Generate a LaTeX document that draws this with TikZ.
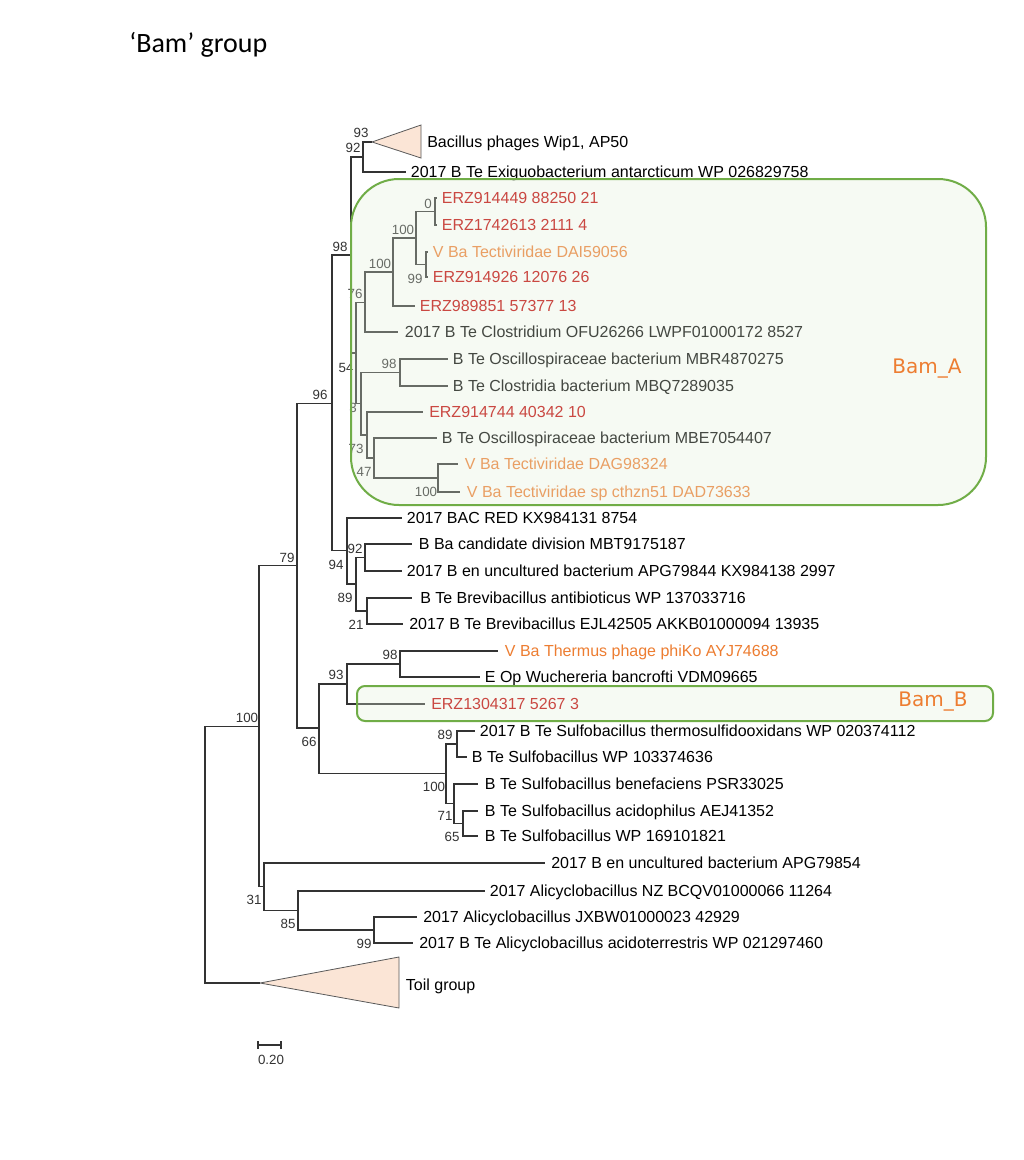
\documentclass[tikz,border=0pt]{standalone}
\usepackage{fontspec}
\setmainfont{Liberation Sans}
\newfontfamily\titlefont{Carlito}
\newfontfamily\boxfont{DejaVu Sans}
\definecolor{treec}{HTML}{333333}
\definecolor{erz}{HTML}{C00000}
\definecolor{vorange}{HTML}{ED7D31}
\definecolor{boxgreen}{HTML}{70AD47}
\definecolor{boxfill}{HTML}{E2EFDA}
\definecolor{trifill}{HTML}{FBE5D6}
\definecolor{trigray}{HTML}{595959}
\begin{document}
\begin{tikzpicture}[x=0.75pt,y=-0.75pt,
  br/.style={draw=treec,line width=0.9pt},
  leaf/.style={anchor=west,inner xsep=3.5pt,inner ysep=0pt,text height=8.6pt,text depth=0pt,font=\fontsize{12}{14}\selectfont},
  erzleaf/.style={leaf,text=erz},
  vleaf/.style={leaf,text=vorange},
  boot/.style={inner sep=0pt,text=treec,font=\fontsize{10}{12}\selectfont},
  tri/.style={draw=trigray,line width=0.6pt,fill=trifill},
  grpbox/.style={draw=boxgreen,line width=1.5pt,fill=boxfill,fill opacity=0.3},
  grplabel/.style={inner sep=0pt,text=vorange,font=\boxfont\fontsize{15}{18}\selectfont}]
\fill[white] (0,0) rectangle (1024,1160);
\useasboundingbox (0,0) rectangle (1024,1160);

% title
\node[anchor=base west,inner sep=0pt,font=\titlefont\fontsize{21}{25}\selectfont] (title) at (129,52) {‘Bam’ group};

% internal nodes
\coordinate (R) at (205,854.5);
\coordinate (N100a) at (259,726.5);
\coordinate (N79) at (297,565.5);
\coordinate (N96) at (332,403.5);
\coordinate (N98) at (351,255);
\coordinate (N92t) at (363,157);
\coordinate (N54) at (356,353);
\coordinate (N76) at (365,302.5);
\coordinate (N100b) at (393,272);
\coordinate (N100c) at (416,238);
\coordinate (N0) at (435,211.5);
\coordinate (N99) at (426,264.5);
\coordinate (N3) at (361,403.5);
\coordinate (N98b) at (400,372.5);
\coordinate (N73) at (367,435);
\coordinate (N47) at (374,458);
\coordinate (N100d) at (438,478);
\coordinate (N94) at (347,550.5);
\coordinate (N89a) at (356,584);
\coordinate (N92b) at (365,557.5);
\coordinate (N21) at (367,611);
\coordinate (N66) at (319,728);
\coordinate (N93) at (347,684);
\coordinate (N98c) at (400,664);
\coordinate (N100e) at (446,773.5);
\coordinate (N89b) at (457,744);
\coordinate (N71) at (454,803.5);
\coordinate (N65) at (463,823.5);
\coordinate (N31) at (264,886.5);
\coordinate (N85) at (298,910.5);
\coordinate (N99b) at (374,930);

% collapsed clades
\coordinate (tA) at (372,142);
\coordinate (tA1) at (421,125);
\coordinate (tA2) at (421,158);
\coordinate (tT) at (260,983);
\coordinate (tT1) at (399,957);
\coordinate (tT2) at (399,1008);
\draw[tri] (tA) -- (tA1) -- (tA2) -- cycle;
\draw[tri] (tT) -- (tT1) -- (tT2) -- cycle;
\node[leaf,inner xsep=4.5pt] (wip) at (421,142) {Bacillus phages Wip1, AP50};
\node[leaf,inner xsep=5pt] (toil) at (399,985) {Toil group};

% leaves
\node[leaf] (exig) at (406,172) {2017 B Te Exiguobacterium antarcticum WP 026829758};
\node[erzleaf] (e1) at (437,198) {ERZ914449 88250 21};
\node[erzleaf] (e2) at (437,225) {ERZ1742613 2111 4};
\node[vleaf] (v1) at (428,252) {V Ba Tectiviridae DAI59056};
\node[erzleaf] (e3) at (428,277) {ERZ914926 12076 26};
\node[erzleaf] (e4) at (415,306) {ERZ989851 57377 13};
\node[leaf,inner xsep=5pt] (clos) at (398,332) {2017 B Te Clostridium OFU26266 LWPF01000172 8527};
\node[leaf] (mbr) at (448,359) {B Te Oscillospiraceae bacterium MBR4870275};
\node[leaf] (mbq) at (448,386) {B Te Clostridia bacterium MBQ7289035};
\node[erzleaf,inner xsep=4.5pt] (e5) at (423,412) {ERZ914744 40342 10};
\node[leaf] (mbe) at (437,438) {B Te Oscillospiraceae bacterium MBE7054407};
\node[vleaf,inner xsep=5pt] (v2) at (458,464) {V Ba Tectiviridae DAG98324};
\node[vleaf,inner xsep=5pt] (v3) at (460,492) {V Ba Tectiviridae sp cthzn51 DAD73633};
\node[leaf] (bac) at (402,518) {2017 BAC RED KX984131 8754};
\node[leaf,inner xsep=5pt] (cand) at (412,544) {B Ba candidate division MBT9175187};
\node[leaf] (apg1) at (402,571) {2017 B en uncultured bacterium APG79844 KX984138 2997};
\node[leaf,inner xsep=6pt] (brev1) at (412,598) {B Te Brevibacillus antibioticus WP 137033716};
\node[leaf,inner xsep=4.5pt] (brev2) at (403,624) {2017 B Te Brevibacillus EJL42505 AKKB01000094 13935};
\node[vleaf,inner xsep=5pt] (therm) at (498,651) {V Ba Thermus phage phiKo AYJ74688};
\node[leaf] (wuch) at (480,677) {E Op Wuchereria bancrofti VDM09665};
\node[erzleaf,inner xsep=4.5pt] (e6) at (425,704) {ERZ1304317 5267 3};
\node[leaf] (s1) at (475,731) {2017 B Te Sulfobacillus thermosulfidooxidans WP 020374112};
\node[leaf] (s2) at (467,757) {B Te Sulfobacillus WP 103374636};
\node[leaf,inner xsep=5pt] (s3) at (478,784) {B Te Sulfobacillus benefaciens PSR33025};
\node[leaf,inner xsep=5pt] (s4) at (478,811) {B Te Sulfobacillus acidophilus AEJ41352};
\node[leaf,inner xsep=5pt] (s5) at (478,836) {B Te Sulfobacillus WP 169101821};
\node[leaf,inner xsep=4.5pt] (apg2) at (545,863) {2017 B en uncultured bacterium APG79854};
\node[leaf] (al1) at (485,891) {2017 Alicyclobacillus NZ BCQV01000066 11264};
\node[leaf,inner xsep=4.5pt] (al2) at (417,917) {2017 Alicyclobacillus JXBW01000023 42929};
\node[leaf,inner xsep=4.5pt] (al3) at (413,943) {2017 B Te Alicyclobacillus acidoterrestris WP 021297460};

% branches
\draw[br] (R) |- (N100a);
\draw[br] (R) |- (tT);
\draw[br] (N100a) |- (N79);
\draw[br] (N100a) |- (N31);
\draw[br] (N79) |- (N96);
\draw[br] (N79) |- (N66);
\draw[br] (N96) |- (N98);
\draw[br] (N96) |- (N94);
\draw[br] (N98) |- (N92t);
\draw[br] (N98) |- (N54);
\draw[br] (N92t) |- (tA);
\draw[br] (N92t) |- (exig.west);
\draw[br] (N54) |- (N76);
\draw[br] (N54) |- (N3);
\draw[br] (N76) |- (N100b);
\draw[br] (N76) |- (clos.west);
\draw[br] (N100b) |- (N100c);
\draw[br] (N100b) |- (e4.west);
\draw[br] (N100c) |- (N0);
\draw[br] (N100c) |- (N99);
\draw[br] (N0) |- (e1.west);
\draw[br] (N0) |- (e2.west);
\draw[br] (N99) |- (v1.west);
\draw[br] (N99) |- (e3.west);
\draw[br] (N3) |- (N98b);
\draw[br] (N3) |- (N73);
\draw[br] (N98b) |- (mbr.west);
\draw[br] (N98b) |- (mbq.west);
\draw[br] (N73) |- (e5.west);
\draw[br] (N73) |- (N47);
\draw[br] (N47) |- (mbe.west);
\draw[br] (N47) |- (N100d);
\draw[br] (N100d) |- (v2.west);
\draw[br] (N100d) |- (v3.west);
\draw[br] (N94) |- (bac.west);
\draw[br] (N94) |- (N89a);
\draw[br] (N89a) |- (N92b);
\draw[br] (N89a) |- (N21);
\draw[br] (N92b) |- (cand.west);
\draw[br] (N92b) |- (apg1.west);
\draw[br] (N21) |- (brev1.west);
\draw[br] (N21) |- (brev2.west);
\draw[br] (N66) |- (N93);
\draw[br] (N66) |- (N100e);
\draw[br] (N93) |- (N98c);
\draw[br] (N93) |- (e6.west);
\draw[br] (N98c) |- (therm.west);
\draw[br] (N98c) |- (wuch.west);
\draw[br] (N100e) |- (N89b);
\draw[br] (N100e) |- (N71);
\draw[br] (N89b) |- (s1.west);
\draw[br] (N89b) |- (s2.west);
\draw[br] (N71) |- (s3.west);
\draw[br] (N71) |- (N65);
\draw[br] (N65) |- (s4.west);
\draw[br] (N65) |- (s5.west);
\draw[br] (N31) |- (apg2.west);
\draw[br] (N31) |- (N85);
\draw[br] (N85) |- (al1.west);
\draw[br] (N85) |- (N99b);
\draw[br] (N99b) |- (al2.west);
\draw[br] (N99b) |- (al3.west);

% bootstrap values
\node[boot] (b1) at (361,133) {93};
\node[boot] (b2) at (353,148) {92};
\node[boot] (b3) at (340,247) {98};
\node[boot] (b4) at (428,204) {0};
\node[boot] (b5) at (403,230) {100};
\node[boot] (b6) at (380,264) {100};
\node[boot] (b7) at (415,279) {99};
\node[boot] (b8) at (355,294) {76};
\node[boot] (b9) at (346,368) {54};
\node[boot] (b10) at (389,364) {98};
\node[boot] (b11) at (353,408) {3};
\node[boot] (b12) at (356,449) {73};
\node[boot] (b13) at (364,472) {47};
\node[boot] (b14) at (426,492) {100};
\node[boot] (b15) at (320,395) {96};
\node[boot] (b16) at (287,558) {79};
\node[boot] (b17) at (336,565) {94};
\node[boot] (b18) at (355,549) {92};
\node[boot] (b19) at (345,598) {89};
\node[boot] (b20) at (356,625) {21};
\node[boot] (b21) at (390,655) {98};
\node[boot] (b22) at (336,675) {93};
\node[boot] (b23) at (247,718) {100};
\node[boot] (b24) at (309,742) {66};
\node[boot] (b25) at (445,735) {89};
\node[boot] (b26) at (434,787) {100};
\node[boot] (b27) at (445,816) {71};
\node[boot] (b28) at (452,837) {65};
\node[boot] (b29) at (254,900) {31};
\node[boot] (b30) at (288,924) {85};
\node[boot] (b31) at (364,944) {99};

% group boxes (overlay)
\draw[grpbox,rounded corners=36pt] (351,179) rectangle (986,505);
\draw[grpbox,rounded corners=6pt] (357,686) rectangle (993,721);
\node[grplabel] (lblA) at (927,369) {Bam\_A};
\node[grplabel] (lblB) at (933,702) {Bam\_B};

% scale bar
\coordinate (sb1) at (258,1045);
\coordinate (sb2) at (281,1045);
\draw[br,line width=0.8pt] (sb1) -- (sb2);
\draw[br,line width=0.8pt] (sb1) ++(0,-4) -- ++(0,8);
\draw[br,line width=0.8pt] (sb2) ++(0,-4) -- ++(0,8);
\node[boot] (sbl) at (271,1060) {0.20};
\end{tikzpicture}
\end{document}
